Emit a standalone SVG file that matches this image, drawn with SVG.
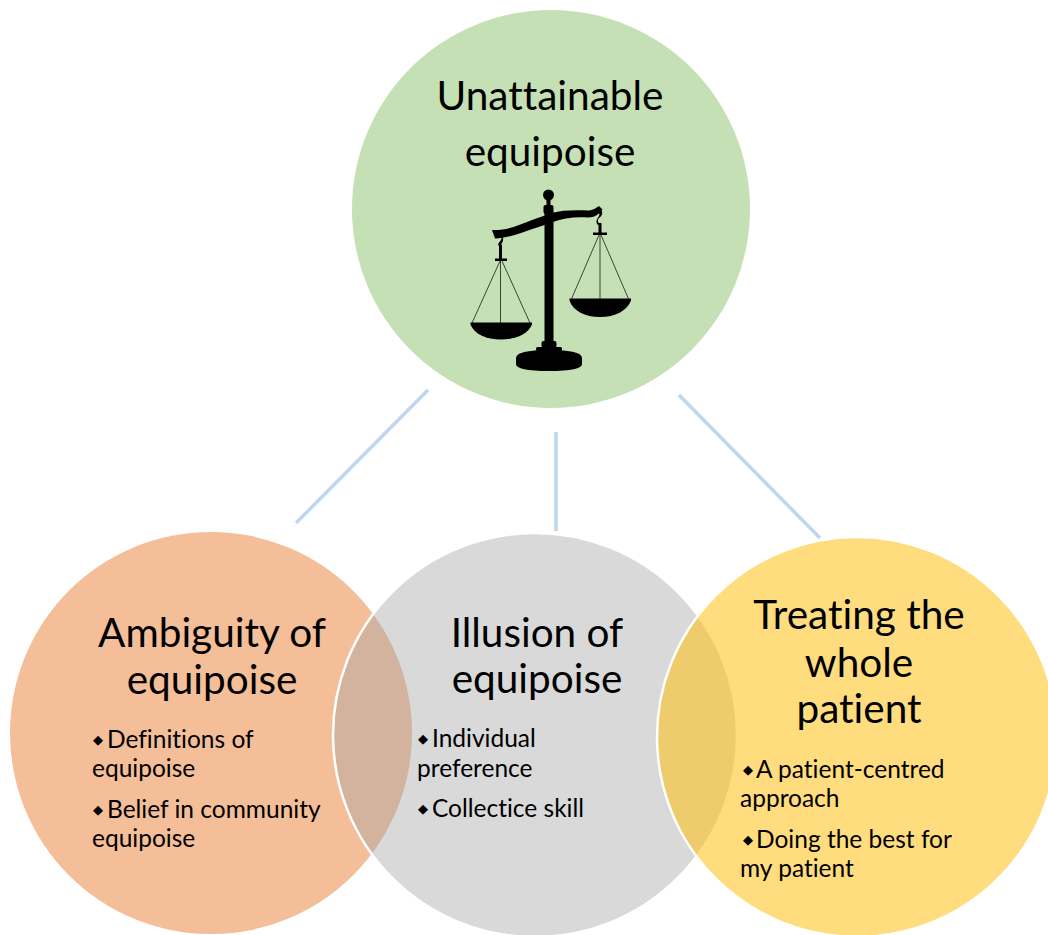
<svg xmlns="http://www.w3.org/2000/svg" width="1048" height="935" viewBox="0 0 1048 935">
<style>
text{font-variant-ligatures:none;font-feature-settings:"liga" 0,"clig" 0,"dlig" 0}
.h{font-family:Lato,"Liberation Sans",sans-serif;font-size:40.5px;text-anchor:middle;fill:#000}
.b{font-family:Lato,"Liberation Sans",sans-serif;font-size:24.5px;fill:#000}
.d{font-family:"DejaVu Sans",sans-serif;font-size:13px}
.conn{stroke:#BDD7EE;stroke-width:3.5;fill:none}
.ink{fill:#000}
.str{stroke:#000;stroke-width:0.7;fill:none}
</style>
<rect width="1048" height="935" fill="#fff"/>
<g id="connectors">
<line class="conn" x1="428" y1="390" x2="296" y2="523"/>
<line class="conn" x1="556" y1="432" x2="556" y2="531"/>
<line class="conn" x1="679" y1="395" x2="820" y2="538"/>
</g>
<g id="node-top">
<circle cx="551" cy="209" r="199" fill="#C5E0B4"/>
<text class="h" x="550" y="110">Unattainable</text>
<text class="h" x="550" y="166">equipoise</text>
<g id="scale">
<circle class="ink" cx="548.5" cy="195" r="5.5"/>
<rect class="ink" x="546.5" y="199" width="4" height="8"/>
<rect class="ink" x="543.5" y="205" width="10" height="9" rx="2"/>
<rect class="ink" x="544.5" y="212" width="9" height="132"/>
<path class="ink" d="M492,230 C505,231 520,225 532,220 C540,217 546,215 552,213 C562,210 575,210 588,210.5 C593,210.5 596,208 599,206 L602.5,209.5 C599,214 595,217.5 588,217.5 C575,216.5 563,218 553,222 C545,225 538,227 531,229.5 C519,234 506,238 495,238.5 Z"/>
<path class="ink" d="M494,233 C499,234 503,237 501,240 C499,243 497,244 499,246 L502,246 C500,244 504,242 503,238 Z"/>
<path class="ink" d="M600,209 C604,212 602,216 599,218 C597,220 598,223 600,224 L598,225 C595,222 597,219 599,216 C600,214 599,212 597,211 Z"/>
<rect class="ink" x="499" y="245" width="3" height="15"/>
<rect class="ink" x="495" y="258.5" width="12" height="2.5"/>
<rect class="ink" x="598.5" y="223" width="3" height="11"/>
<rect class="ink" x="593" y="232.5" width="14" height="2.5"/>
<path class="str" d="M500,261 L472,323 M500.5,261 L500.5,323 M502,261 L530,323"/>
<path class="str" d="M599,235 L571,300 M600,235 L600,300 M601,235 L629,300"/>
<path class="ink" d="M470.5,322.5 L532,322.5 L532,324.5 C528,334 516,339.5 501,339.5 C486,339.5 474,334 470.5,324.5 Z"/>
<path class="ink" d="M569.5,298.5 L631,298.5 L631,300.5 C627,311 615,317 600,317 C585,317 573,311 569.5,300.5 Z"/>
<rect class="ink" x="541.5" y="341" width="15" height="7" rx="2"/>
<rect class="ink" x="536" y="347" width="26" height="4" rx="1.5"/>
<path class="ink" d="M516,358 Q516,350 549,350 Q582,350 582,358 L582,364 Q582,371 549,371 Q516,371 516,364 Z"/>
</g>
</g>
<g id="node-left">
<circle cx="211" cy="733" r="201" fill="#F4BE98"/>
<text class="h" x="212" y="647">Ambiguity of</text>
<text class="h" x="212" y="694">equipoise</text>
<text class="b" y="748"><tspan class="d" x="93" dy="-4">◆</tspan><tspan x="107" dy="4">Definitions of</tspan></text>
<text class="b" x="92" y="777">equipoise</text>
<text class="b" y="818"><tspan class="d" x="93" dy="-4">◆</tspan><tspan x="107" dy="4">Belief in community</tspan></text>
<text class="b" x="92" y="847">equipoise</text>
</g>
<g id="node-middle">
<circle cx="535" cy="735" r="202" fill="#A5A5A5" fill-opacity="0.42" stroke="#fff" stroke-width="2.5"/>
<text class="h" x="537" y="647">Illusion of</text>
<text class="h" x="537" y="693">equipoise</text>
<text class="b" y="747"><tspan class="d" x="418" dy="-4">◆</tspan><tspan x="432" dy="4">Individual</tspan></text>
<text class="b" x="417" y="777">preference</text>
<text class="b" y="817"><tspan class="d" x="418" dy="-4">◆</tspan><tspan x="432" dy="4">Collectice skill</tspan></text>
</g>
<g id="node-right">
<circle cx="857" cy="737" r="200" fill="#FFBF13" fill-opacity="0.55" stroke="#fff" stroke-width="2.5"/>
<text class="h" x="859" y="629">Treating the</text>
<text class="h" x="859" y="677">whole</text>
<text class="h" x="859" y="723">patient</text>
<text class="b" y="778"><tspan class="d" x="743" dy="-4">◆</tspan><tspan x="756" dy="4">A patient-centred</tspan></text>
<text class="b" x="740" y="807">approach</text>
<text class="b" y="848"><tspan class="d" x="743" dy="-4">◆</tspan><tspan x="756" dy="4">Doing the best for</tspan></text>
<text class="b" x="740" y="877">my patient</text>
</g>
</svg>
